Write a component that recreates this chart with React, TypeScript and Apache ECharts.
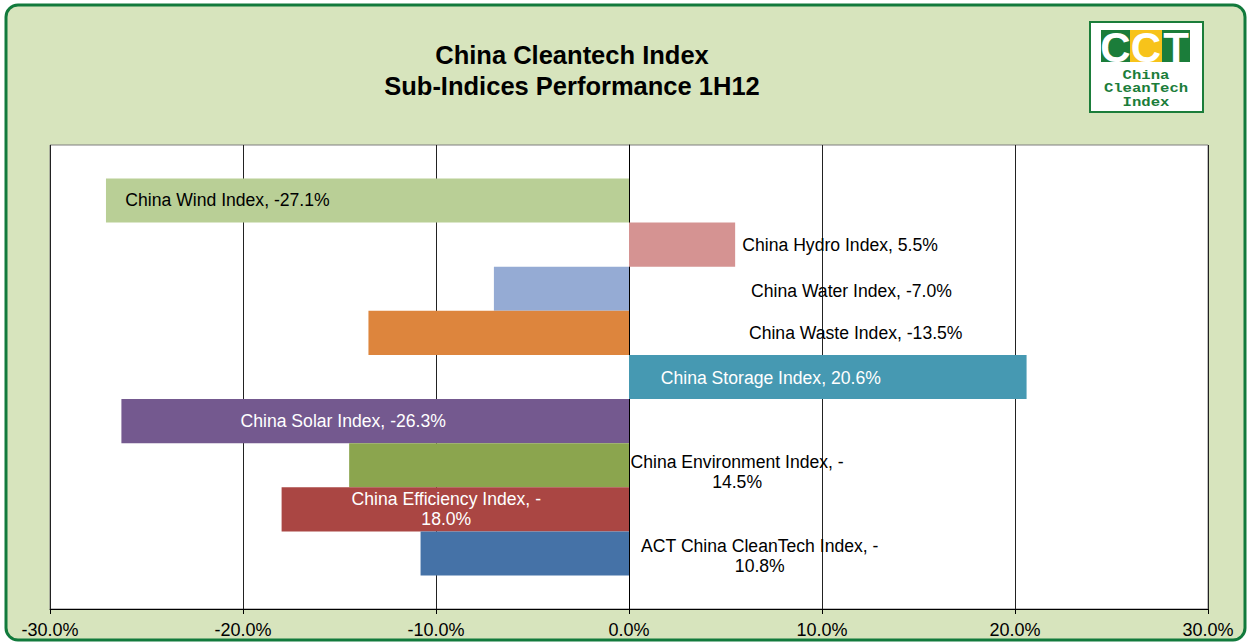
import React, { useEffect, useRef } from 'react';
import * as echarts from 'echarts';

// ---- data ----
const indexNames: string[] = [
  'China Wind Index',
  'China Hydro Index',
  'China Water Index',
  'China Waste Index',
  'China Storage Index',
  'China Solar Index',
  'China Environment Index',
  'China Efficiency Index',
  'ACT China CleanTech Index',
];
const performance: number[] = [-27.1, 5.5, -7.0, -13.5, 20.6, -26.3, -14.5, -18.0, -10.8];
const periodCategories: string[] = ['1H12'];
const axisMin = -30;
const axisMax = 30;
const axisStep = 10;
const titleLines: string[] = ['China Cleantech Index', 'Sub-Indices Performance 1H12'];
const logoLetters: string[] = ['C', 'C', 'T'];
const logoWords: string[] = ['China', 'CleanTech', 'Index'];

// ---- styles ----
const barColors = ['#b9cf96', '#d59392', '#95abd4', '#dd853d', '#4699b2', '#74598f', '#8ba54e', '#aa4643', '#4572a7'];
const labelColors = ['#000', '#000', '#000', '#000', '#fff', '#fff', '#000', '#fff', '#000'];
const labelOffsets: [number, number][] = [
  [-140, 0],
  [158, 0],
  [290, 2],
  [357, 0],
  [-57, 1],
  [-32, 0],
  [248, 7],
  [-9, 0],
  [235, 2],
];
const wrappedLabels = new Set(['China Environment Index', 'China Efficiency Index', 'ACT China CleanTech Index']);
const FONT = '"Liberation Sans", Arial, sans-serif';

function labelText(name: string, v: number): string {
  if (wrappedLabels.has(name)) {
    const sign = v < 0 ? '-' : '';
    return `${name}, ${sign}\n${Math.abs(v).toFixed(1)}%`;
  }
  return `${name}, ${v.toFixed(1)}%`;
}

export default function App() {
  const ref = useRef<HTMLDivElement>(null);
  useEffect(() => {
    if (!ref.current) return;
    const chart = echarts.init(ref.current, undefined, { renderer: 'svg' });

    const series = indexNames.map((name, i) => ({
      type: 'bar',
      name,
      data: [performance[i]],
      barGap: '0%',
      barCategoryGap: '14.4%',
      itemStyle: { color: barColors[i] },
      label: {
        show: true,
        position: 'inside',
        offset: labelOffsets[i],
        formatter: () => labelText(name, performance[i]),
        color: labelColors[i],
        fontSize: 17.6,
        fontFamily: FONT,
        lineHeight: 20,
        align: 'center',
        textBorderWidth: 0,
      },
    }));

    const blockX = [1101, 1130, 1162];
    const blockW = [29, 32, 28];
    const blockC = ['#1b7d3a', '#f7c31a', '#1b7d3a'];

    const graphic: any[] = [
      {
        type: 'rect',
        z: -10,
        silent: true,
        shape: { x: 6, y: 5, width: 1239, height: 635, r: 12 },
        style: { fill: '#d7e4bd', stroke: '#127a3c', lineWidth: 3 },
      },
      ...titleLines.map((t, i) => ({
        type: 'text',
        x: 572,
        y: 55 + i * 31,
        style: {
          text: t,
          font: `bold 25.5px ${FONT}`,
          fill: '#000',
          textAlign: 'center',
          textVerticalAlign: 'middle',
        },
      })),
      {
        type: 'rect',
        z: 50,
        shape: { x: 1090, y: 22, width: 113, height: 90 },
        style: { fill: '#fff', stroke: '#1b7d3a', lineWidth: 2 },
      },
      ...logoLetters.map((_, i) => ({
        type: 'rect',
        z: 51,
        shape: { x: blockX[i], y: 30, width: blockW[i], height: 32 },
        style: { fill: blockC[i] },
      })),
      ...logoLetters.map((l, i) => ({
        type: 'text',
        z: 52,
        x: blockX[i] + blockW[i] / 2,
        y: 47,
        style: {
          text: l,
          font: `bold 42px ${FONT}`,
          fill: '#fff',
          textAlign: 'center',
          textVerticalAlign: 'middle',
        },
      })),
      ...logoWords.map((w, i) => ({
        type: 'text',
        z: 52,
        x: 1146,
        y: 75 + i * 13.5,
        scaleX: 1.25,
        style: {
          text: w,
          font: `bold 12.5px "Liberation Mono", "DejaVu Sans Mono", monospace`,
          fill: '#1b7d3a',
          textAlign: 'center',
          textVerticalAlign: 'middle',
        },
      })),
    ];

    chart.setOption({
      animation: false,
      backgroundColor: 'transparent',
      graphic,
      grid: {
        left: 50,
        right: 40,
        top: 145,
        bottom: 34,
        show: true,
        backgroundColor: '#ffffff',
        borderColor: '#7f7f7f',
        borderWidth: 1,
      },
      xAxis: {
        type: 'value',
        min: axisMin,
        max: axisMax,
        interval: axisStep,
        axisLine: { show: true, lineStyle: { color: '#000', width: 1 } },
        axisTick: { show: true, length: 5, lineStyle: { color: '#000' } },
        splitLine: { show: true, lineStyle: { color: '#222', width: 1 } },
        axisLabel: {
          fontSize: 18,
          fontFamily: FONT,
          color: '#000',
          margin: 12,
          formatter: (v: number) => `${v.toFixed(1)}%`,
        },
      },
      yAxis: {
        type: 'category',
        data: periodCategories,
        axisLine: { show: true, lineStyle: { color: '#000', width: 1 } },
        axisTick: { show: false },
        axisLabel: { show: false },
        splitLine: { show: false },
      },
      series,
    });
    return () => chart.dispose();
  }, []);

  return (
    <div
      ref={ref}
      style={{ position: 'absolute', left: 0, top: 0, width: 1248, height: 643, background: '#fff' }}
    />
  );
}
